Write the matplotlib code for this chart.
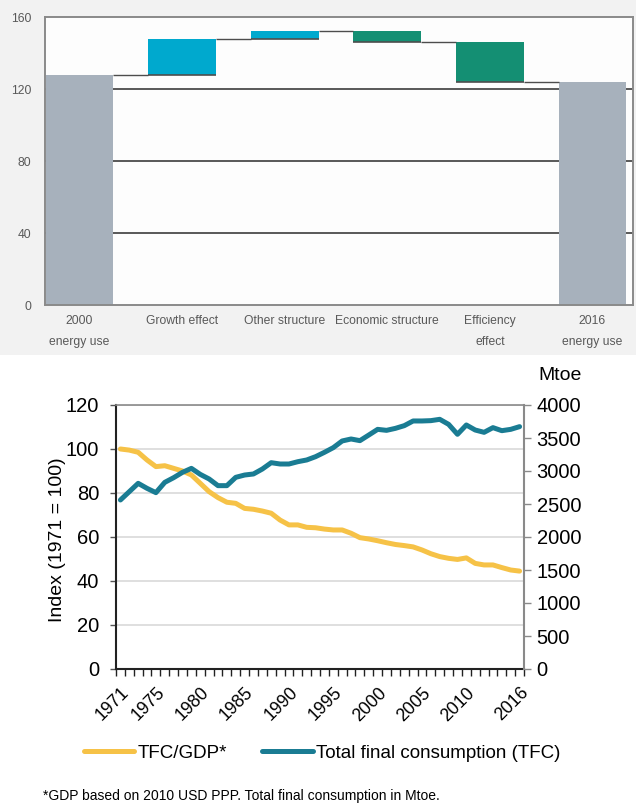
import numpy as np
import matplotlib
matplotlib.use('Agg')
import matplotlib.pyplot as plt
from matplotlib import font_manager
from matplotlib.patches import Rectangle
from matplotlib.lines import Line2D

# ── Data: waterfall (top) ──
categories = ['2000\nenergy use', 'Growth effect', 'Other structure',
              'Economic structure', 'Efficiency\neffect', '2016\nenergy use']
changes = [128.0, 19.6, 4.8, -6.4, -22.0, 124.0]
bar_colors = ['#a7b1bc', '#00a9ce', '#00a9ce', '#148f73', '#148f73', '#a7b1bc']
top_ticks = [0, 40, 80, 120, 160]

# ── Data: index / TFC lines (bottom) ──
years = list(range(1971, 2017))
tfc_gdp = [100, 99.5, 98.5, 95, 92, 92.4, 91.2, 90, 88.2, 84.4, 80.6, 77.9, 75.8, 75.3, 73,
           72.6, 71.8, 70.8, 67.7, 65.5, 65.5, 64.4, 64.2, 63.6, 63.2, 63.2, 61.7, 59.7, 59.1,
           58.3, 57.4, 56.6, 56.1, 55.5, 54.1, 52.4, 51.1, 50.3, 49.8, 50.5, 48, 47.3, 47.3,
           46.1, 45, 44.5]
tfc = [2561, 2687, 2813, 2737, 2672, 2828, 2899, 2980, 3040, 2949, 2879, 2778, 2778, 2904,
       2939, 2955, 3030, 3126, 3106, 3106, 3141, 3167, 3217, 3283, 3354, 3455, 3485, 3460,
       3545, 3631, 3616, 3646, 3687, 3758, 3758, 3763, 3783, 3707, 3556, 3697, 3621, 3586,
       3657, 3611, 3631, 3672]
label_years = [1971, 1975, 1980, 1985, 1990, 1995, 2000, 2005, 2010, 2016]

# ── Fonts ──
names = {f.name for f in font_manager.fontManager.ttflist}
NARROW = 'Liberation Sans Narrow' if 'Liberation Sans Narrow' in names else 'Liberation Sans'
nscale = 1.0 if NARROW == 'Liberation Sans Narrow' else 0.87
plt.rcParams['font.family'] = ['Liberation Sans', 'DejaVu Sans']

W, H = 639, 806
fig = plt.figure(figsize=(W / 100, H / 100), dpi=100)

def fx(px):
    return px / W

def fy(py):
    return 1 - py / H

# light grey panel behind the waterfall
fig.patches.append(Rectangle((0, fy(355)), fx(636), 355 / H, transform=fig.transFigure,
                             facecolor='#f2f2f2', edgecolor='none', zorder=-5))

# ── Top: waterfall ──
ax1 = fig.add_axes([fx(45), fy(305), fx(633 - 45), (305 - 17) / H])
ax1.set_zorder(2)
ax1.set_facecolor('#fdfdfd')
n = len(changes)
xs = np.arange(n)
bw = 0.66
bottoms, heights, levels = [], [], []
level = 0.0
for i, c in enumerate(changes):
    if i == 0 or i == n - 1:
        bottoms.append(0.0)
        heights.append(c)
        level = c
    else:
        new = level + c
        bottoms.append(min(level, new))
        heights.append(abs(c))
        level = new
    levels.append(level)

for y in [40, 80, 120]:
    ax1.axhline(y, color='#3c3c3c', lw=1.2, zorder=1)
ax1.bar(xs, heights, bottom=bottoms, width=bw, color=bar_colors, zorder=2)
# dark bottom edge of floating bars
for i in range(1, n - 1):
    ax1.hlines(bottoms[i], xs[i] - bw / 2, xs[i] + bw / 2, color='#4d4d4d', lw=1.2, zorder=3)
# connectors
for i in range(n - 1):
    ax1.hlines(levels[i], xs[i] + bw / 2, xs[i + 1] - bw / 2, color='#4d4d4d', lw=1.0, zorder=3)

ax1.set_xlim(-0.336, 5.395)
ax1.set_ylim(0, 160)
ax1.set_yticks(top_ticks)
ax1.set_yticklabels([str(t) for t in top_ticks], family=NARROW, fontsize=10 * nscale,
                    color='#595959')
ax1.set_xticks(xs)
ax1.set_xticklabels(categories, family=NARROW, fontsize=10 * nscale, color='#595959',
                    linespacing=2.0)
ax1.tick_params(axis='both', length=0)
ax1.tick_params(axis='y', pad=10)
ax1.tick_params(axis='x', pad=7)
for side in ['top', 'right', 'left', 'bottom']:
    ax1.spines[side].set_color('#8a8a8a')
    ax1.spines[side].set_linewidth(1.4)

# ── Bottom: index and TFC ──
ax2 = fig.add_axes([fx(116), fy(669), fx(524 - 116), (669 - 405) / H])
x = np.arange(len(years))
ax2.plot(x, tfc_gdp, color='#f6c247', lw=3.6, solid_capstyle='round', zorder=3)
ax2.set_xlim(-0.5, len(years) - 0.5)
ax2.set_ylim(0, 120)
ax2.set_yticks(range(0, 121, 20))
ax2.grid(axis='y', color='#d9d9d9', lw=1.2)
ax2.set_axisbelow(True)
ax2.tick_params(axis='y', labelsize=14.5, length=4, width=1, color='#555555', pad=8)
ax2.set_ylabel('Index (1971 = 100)', fontsize=14)
ax2.yaxis.set_label_coords(-0.122, 0.49)

ax2.set_xticks([years.index(y) for y in label_years])
ax2.set_xticklabels([str(y) for y in label_years], rotation=45, ha='right',
                    rotation_mode='anchor', fontsize=12.8)
ax2.tick_params(axis='x', which='major', length=0, pad=11)
ax2.set_xticks(np.arange(-0.5, len(years)), minor=True)
ax2.tick_params(axis='x', which='minor', length=5, width=1, color='#222222')

ax2.spines['left'].set_color('#222222')
ax2.spines['left'].set_linewidth(1.5)
ax2.spines['bottom'].set_color('#222222')
ax2.spines['bottom'].set_linewidth(1.5)
ax2.spines['top'].set_color('#8a8a8a')
ax2.spines['top'].set_linewidth(1.2)
ax2.spines['right'].set_visible(False)

ax2r = ax2.twinx()
ax2r.plot(x, tfc, color='#1a7c93', lw=3.6, solid_capstyle='round', zorder=3)
ax2r.set_ylim(0, 4000)
ax2r.set_yticks(range(0, 4001, 500))
ax2r.tick_params(axis='y', labelsize=14.5, length=5, width=1, color='#8a8a8a', pad=4)
for side in ['left', 'bottom', 'top']:
    ax2r.spines[side].set_visible(False)
ax2r.spines['right'].set_color('#8a8a8a')
ax2r.spines['right'].set_linewidth(1.5)

fig.text(fx(560), fy(376), 'Mtoe', ha='center', va='center', fontsize=14)

handles = [Line2D([], [], color='#f6c247', lw=3.6, solid_capstyle='round'),
           Line2D([], [], color='#1a7c93', lw=3.6, solid_capstyle='round')]
fig.legend(handles, ['TFC/GDP*', 'Total final consumption (TFC)'], loc='center',
           bbox_to_anchor=(fx(322), fy(753)), ncol=2, frameon=False, fontsize=13.5,
           handlelength=2.7, handletextpad=0.15, columnspacing=1.9)

fig.text(fx(43), fy(796), '*GDP based on 2010 USD PPP. Total final consumption in Mtoe.',
         ha='left', va='center', family=NARROW, fontsize=10)

fig.savefig('out.png', dpi=100)
